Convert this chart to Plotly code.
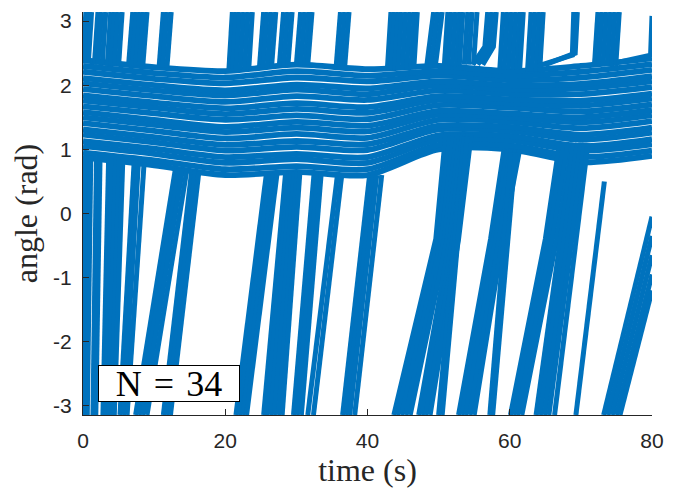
import plotly.graph_objects as go

PI = 3.1416
BLUE = "#0072BD"

# ---- slow (in-band) oscillator stripes, values at these times ----
stripe_t = [0, 10, 20, 30, 40, 50, 60, 70, 80]
stripe_y = [
    [0.87, 0.75, 0.60, 0.65, 0.60, 1.00, 1.00, 0.80, 0.90],
    [0.95, 0.83, 0.69, 0.74, 0.69, 1.07, 1.06, 0.88, 0.98],
    [1.05, 0.93, 0.79, 0.85, 0.79, 1.15, 1.14, 0.98, 1.08],
    [1.13, 1.01, 0.88, 0.93, 0.88, 1.22, 1.21, 1.05, 1.16],
    [1.23, 1.11, 0.98, 1.04, 0.99, 1.31, 1.29, 1.15, 1.26],
    [1.31, 1.19, 1.07, 1.13, 1.08, 1.37, 1.35, 1.23, 1.34],
    [1.41, 1.29, 1.17, 1.24, 1.18, 1.46, 1.43, 1.33, 1.44],
    [1.50, 1.38, 1.27, 1.34, 1.28, 1.54, 1.50, 1.42, 1.53],
    [1.58, 1.46, 1.35, 1.43, 1.37, 1.60, 1.56, 1.50, 1.61],
    [1.67, 1.56, 1.46, 1.53, 1.47, 1.69, 1.65, 1.59, 1.70],
    [1.76, 1.65, 1.55, 1.63, 1.57, 1.77, 1.72, 1.68, 1.79],
    [1.84, 1.73, 1.64, 1.72, 1.66, 1.83, 1.78, 1.76, 1.87],
    [1.94, 1.83, 1.74, 1.83, 1.77, 1.92, 1.86, 1.86, 1.97],
    [2.03, 1.92, 1.84, 1.93, 1.86, 2.00, 1.93, 1.95, 2.06],
    [2.11, 2.00, 1.92, 2.01, 1.95, 2.06, 2.00, 2.02, 2.14],
    [2.21, 2.10, 2.03, 2.12, 2.06, 2.15, 2.08, 2.12, 2.24],
    [2.30, 2.19, 2.12, 2.22, 2.15, 2.22, 2.15, 2.21, 2.33],
    [2.39, 2.28, 2.22, 2.32, 2.25, 2.30, 2.22, 2.30, 2.42],
]

# ---- fast rotations: strokes rising from -pi into the band ----
low_t = [
    [0.0, 0.3], [0.3, 0.7], [0.6, 1.1], [0.0, 0.15],
    [1.4, 1.9], [1.8, 2.4],
    [2.8, 3.6], [3.2, 4.1], [3.6, 4.6], [4.0, 5.1], [4.4, 5.6],
    [5.2, 7.2], [5.7, 7.8], [6.2, 8.6],
    [7.4, 13.0], [7.9, 13.5], [8.4, 14.0], [9.0, 14.6],
    [11.3, 15.3], [11.8, 15.8], [12.3, 16.3],
    [21.5, 25.8], [22.0, 26.3], [22.5, 26.8], [23.0, 27.3],
    [25.4, 28.5], [25.8, 29.0],
    [26.4, 29.3], [26.9, 29.7], [27.5, 30.1], [28.0, 30.5],
    [29.6, 32.5], [30.1, 33.0], [30.7, 33.5],
    [31.6, 35.8], [32.4, 36.4],
    [36.5, 40.3], [37.0, 40.8], [37.5, 41.3], [38.2, 42.0],
    [43.7, 49.6, 51.0], [44.2, 50.0, 51.6], [44.8, 50.4, 52.1], [45.4, 50.8, 52.6], [46.0, 51.2, 53.0],
    [47.2, 51.6, 53.4], [47.7, 52.0, 53.8], [48.2, 52.4, 54.2], [48.8, 52.8, 54.6],
    [50.0, 53.6], [50.5, 54.0],
    [52.8, 57.3, 59.2], [53.3, 57.7, 59.7], [53.8, 58.1, 60.2], [54.4, 58.5, 60.8], [55.0, 59.0, 61.4],
    [57.2, 60.2], [57.6, 60.8],
    [60.1, 65.0, 67.0], [60.6, 65.5, 67.6], [61.1, 66.0, 68.2], [61.7, 66.6, 68.8],
    [63.7, 67.2, 69.0], [64.3, 67.7, 69.5], [64.9, 68.2, 70.0], [65.5, 68.7, 70.5], [66.3, 69.3, 71.0],
    [69.3, 73.3],
    [73.2, 80.0], [73.8, 80.0], [74.4, 80.0], [75.0, 80.0], [75.5, 80.0],
]
low_y = [
    [-PI, 0.9], [-PI, 0.9], [-PI, 0.9], [-1.2, 0.9],
    [-PI, 0.88], [-PI, 0.88],
    [-PI, 0.85], [-PI, 0.85], [-PI, 0.85], [-PI, 0.85], [-PI, 0.85],
    [-PI, 0.82], [-PI, 0.82], [-PI, 0.8],
    [-PI, 0.7], [-PI, 0.7], [-PI, 0.7], [-PI, 0.68],
    [-PI, 0.68], [-PI, 0.67], [-PI, 0.66],
    [-PI, 0.63], [-PI, 0.63], [-PI, 0.63], [-PI, 0.64],
    [-PI, 0.65], [-PI, 0.65],
    [-PI, 0.65], [-PI, 0.65], [-PI, 0.65], [-PI, 0.65],
    [-PI, 0.64], [-PI, 0.64], [-PI, 0.64],
    [-PI, 0.62], [-PI, 0.62],
    [-PI, 0.6], [-PI, 0.6], [-PI, 0.6], [-PI, 0.6],
    [-PI, -0.4, 1.25], [-PI, -0.4, 1.25], [-PI, -0.4, 1.25], [-PI, -0.4, 1.25], [-PI, -0.4, 1.25],
    [-PI, -0.4, 1.25], [-PI, -0.4, 1.25], [-PI, -0.4, 1.25], [-PI, -0.4, 1.25],
    [-PI, 1.2], [-PI, 1.2],
    [-PI, -0.4, 1.0], [-PI, -0.4, 1.0], [-PI, -0.4, 1.0], [-PI, -0.4, 1.0], [-PI, -0.4, 1.0],
    [-PI, 0.95], [-PI, 0.95],
    [-PI, -0.4, 1.1], [-PI, -0.4, 1.1], [-PI, -0.4, 1.1], [-PI, -0.4, 1.1],
    [-PI, -0.4, 1.1], [-PI, -0.4, 1.1], [-PI, -0.4, 1.1], [-PI, -0.4, 1.1], [-PI, -0.4, 1.1],
    [-PI, 0.5],
    [-PI, -0.05], [-PI, -0.35], [-PI, -0.65], [-PI, -0.95], [-PI, -1.2],
]

# ---- fast rotations: strokes leaving the band and rising to +pi ----
up_t = [
    [0.0, 0.4], [0.35, 0.8], [0.75, 1.2],
    [1.6, 2.1], [2.1, 2.6], [2.7, 3.2],
    [3.4, 3.9], [3.9, 4.4], [4.4, 4.9], [5.0, 5.5],
    [6.4, 7.0], [6.9, 7.5], [7.4, 8.0], [7.9, 8.5], [8.4, 9.0],
    [10.7, 11.3], [11.2, 11.8], [11.8, 12.4],
    [20.5, 21.0], [21.0, 21.5], [21.5, 22.0],
    [22.1, 22.6], [22.7, 23.2], [23.3, 23.8],
    [24.8, 25.4], [25.3, 25.9], [25.9, 26.5], [26.5, 27.1],
    [27.6, 28.2], [28.2, 28.8], [28.8, 29.4],
    [30.0, 30.6], [30.6, 31.2], [31.2, 31.8], [31.6, 32.2],
    [35.6, 36.2], [36.2, 36.8], [36.8, 37.4],
    [42.8, 43.3], [43.3, 43.8], [43.8, 44.3], [44.3, 44.8],
    [44.9, 45.4], [45.5, 46.0], [46.1, 46.6], [46.5, 47.0],
    [48.3, 49.3], [48.9, 49.9], [49.5, 50.5],
    [50.8, 51.3], [51.3, 51.8], [51.9, 52.4], [52.5, 53.0], [52.9, 53.4],
    [53.6, 54.1], [54.2, 54.7], [54.9, 55.4],
    [54.8, 56.5, 56.9], [55.5, 57.1, 57.5], [56.2, 57.7, 58.1],
    [58.6, 59.1], [59.2, 59.7], [59.8, 60.3], [60.4, 60.9], [61.0, 61.5], [61.4, 61.9],
    [62.5, 63.0], [63.1, 63.6], [63.7, 64.2], [64.2, 64.7],
    [64.0, 68.8, 69.0], [65.0, 69.2, 69.5],
    [71.9, 72.4], [72.5, 73.0], [73.1, 73.6], [73.7, 74.2], [74.3, 74.8], [74.9, 75.4],
    [75.0, 79.8, 80.0],
]
up_y = [
    [2.35, PI], [2.35, PI], [2.35, PI],
    [2.32, PI], [2.32, PI], [2.32, PI],
    [2.3, PI], [2.3, PI], [2.3, PI], [2.3, PI],
    [2.3, PI], [2.3, PI], [2.3, PI], [2.3, PI], [2.3, PI],
    [2.28, PI], [2.28, PI], [2.28, PI],
    [2.22, PI], [2.22, PI], [2.22, PI],
    [2.24, PI], [2.24, PI], [2.24, PI],
    [2.27, PI], [2.27, PI], [2.27, PI], [2.27, PI],
    [2.3, PI], [2.3, PI], [2.3, PI],
    [2.32, PI], [2.32, PI], [2.32, PI], [2.32, PI],
    [2.3, PI], [2.3, PI], [2.3, PI],
    [2.25, PI], [2.25, PI], [2.25, PI], [2.25, PI],
    [2.25, PI], [2.25, PI], [2.25, PI], [2.25, PI],
    [2.27, PI], [2.27, PI], [2.27, PI],
    [2.3, PI], [2.3, PI], [2.3, PI], [2.3, PI], [2.3, PI],
    [2.32, PI], [2.32, PI], [2.32, PI],
    [2.32, 2.6, PI], [2.32, 2.6, PI], [2.32, 2.6, PI],
    [2.25, PI], [2.25, PI], [2.25, PI], [2.25, PI], [2.25, PI], [2.25, PI],
    [2.22, PI], [2.22, PI], [2.22, PI], [2.22, PI],
    [2.3, 2.47, PI], [2.32, 2.5, PI],
    [2.3, PI], [2.3, PI], [2.3, PI], [2.3, PI], [2.3, PI], [2.3, PI],
    [2.35, 2.47, 3.08],
]

x_ticks = [0, 20, 40, 60, 80]
y_ticks = [-3, -2, -1, 0, 1, 2, 3]
y_tick_text = ["-3", "-2", "-1", "0", "1", "2", "3"]


def joined(ts, ys):
    xs, vs = [], []
    for t, y in zip(ts, ys):
        xs += list(t) + [None]
        vs += list(y) + [None]
    return xs, vs


fig = go.Figure()

sx, sy = joined([stripe_t] * len(stripe_y), stripe_y)
fig.add_trace(go.Scatter(x=sx, y=sy, mode="lines",
                         line=dict(color=BLUE, width=5.8, shape="spline", smoothing=0.8),
                         hoverinfo="skip", showlegend=False))
lx, ly = joined(low_t, low_y)
fig.add_trace(go.Scatter(x=lx, y=ly, mode="lines",
                         line=dict(color=BLUE, width=5),
                         hoverinfo="skip", showlegend=False))
ux, uy = joined(up_t, up_y)
fig.add_trace(go.Scatter(x=ux, y=uy, mode="lines",
                         line=dict(color=BLUE, width=5),
                         hoverinfo="skip", showlegend=False))

axis_col = "#262626"
serif = "Liberation Serif, DejaVu Serif, serif"
fig.update_layout(
    width=675, height=484,
    margin=dict(l=75, r=31, t=1, b=77),
    paper_bgcolor="white", plot_bgcolor="white",
    font=dict(family="Liberation Sans, Arial, sans-serif", size=21, color=axis_col),
    xaxis=dict(range=[0, 80], tickvals=x_ticks, ticks="inside", ticklen=6,
               tickcolor=axis_col, showline=True, linecolor=axis_col, linewidth=1,
               showgrid=False, zeroline=False, ticklabelstandoff=7,
               ticklabeloverflow="allow",
               title=dict(text="time (s)", standoff=4,
                          font=dict(family=serif, size=32, color=axis_col))),
    yaxis=dict(range=[-PI, PI], tickvals=y_ticks, ticktext=y_tick_text, ticks="inside",
               ticklen=6, tickcolor=axis_col, showline=True, linecolor=axis_col, linewidth=1,
               showgrid=False, zeroline=False, ticklabelstandoff=6,
               ticklabeloverflow="allow",
               title=dict(text="angle (rad)", standoff=7,
                          font=dict(family=serif, size=32, color=axis_col))),
    annotations=[dict(text="N\u2004=\u200434", xref="paper", yref="paper",
                      x=0.0264, y=0.032, xanchor="left", yanchor="bottom",
                      showarrow=False, width=140, height=35,
                      font=dict(family=serif, size=36, color="black"),
                      bgcolor="white", bordercolor="black", borderwidth=1, borderpad=0)],
)

fig.write_html("out.html")
